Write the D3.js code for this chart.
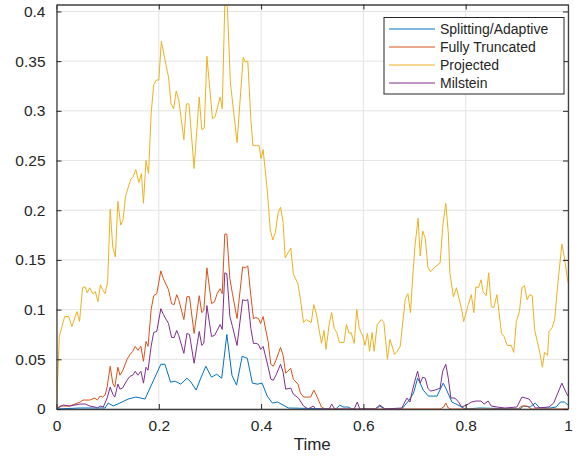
<!DOCTYPE html>
<html>
<meta charset="utf-8" />
<head>
<title>Time error</title>
<script src="https://cdn.jsdelivr.net/npm/d3@7"></script>
<style>
  body { margin: 0; background: #fff; }
  text { font-family: "Liberation Sans", Arial, sans-serif; fill: #262626; }
</style>
</head>
<body>
<div id="chart"></div>
<script>
// series names, same order as the legend
var names = ["Splitting/Adaptive", "Fully Truncated", "Projected", "Milstein"];
var colors = ["#0072BD", "#D95319", "#EDB120", "#7E2F8E"];

var xTicks = [0, 0.2, 0.4, 0.6, 0.8, 1];
var yTicks = [0, 0.05, 0.1, 0.15, 0.2, 0.25, 0.3, 0.35, 0.4];
var yMax = 0.407;

// Splitting/Adaptive
var tSplit = [0, 0.046, 0.085, 0.095, 0.101, 0.111, 0.124, 0.140, 0.155, 0.165, 0.173, 0.204, 0.212, 0.223, 0.232,
  0.243, 0.255, 0.263, 0.273, 0.282, 0.292, 0.303, 0.313, 0.323, 0.333, 0.343, 0.352, 0.363, 0.373, 0.383, 0.393,
  0.402, 0.412, 0.422, 0.432, 0.443, 0.453, 0.546, 0.554, 0.560, 0.570, 0.578, 0.625, 0.632, 0.642, 0.675, 0.688,
  0.698, 0.706, 0.711, 0.717, 0.727, 0.744, 0.756, 0.761, 0.767, 0.773, 0.789, 0.799, 0.828, 0.906, 0.913, 0.926,
  0.936, 0.945, 0.965, 0.977, 0.985, 0.993, 1.0];
var vSplit = [0, 0.001, 0.001, 0.001, 0.006, 0.003, 0.006, 0.010, 0.012, 0.011, 0.010, 0.045, 0.045, 0.027, 0.028,
  0.025, 0.031, 0.027, 0.019, 0.031, 0.043, 0.032, 0.035, 0.031, 0.075, 0.034, 0.024, 0.053, 0.051, 0.026, 0.025,
  0.026, 0.013, 0.006, 0.007, 0.004, 0.001, 0, 0.004, 0.002, 0.002, 0, 0, 0.003, 0, 0, 0.008,
  0.016, 0.031, 0.026, 0.019, 0.013, 0.013, 0.026, 0.021, 0.014, 0.007, 0.003, 0, 0.001, 0, 0.003, 0.002,
  0.006, 0.001, 0.001, 0.002, 0.007, 0.007, 0.004];

// Fully Truncated
var tTrunc = [0, 0.007, 0.017, 0.026, 0.036, 0.046, 0.052, 0.065, 0.075, 0.080, 0.085, 0.090, 0.095, 0.099, 0.105,
  0.110, 0.114, 0.120, 0.124, 0.129, 0.138, 0.144, 0.149, 0.154, 0.159, 0.165, 0.170, 0.175, 0.179, 0.185, 0.190,
  0.196, 0.204, 0.209, 0.219, 0.225, 0.230, 0.235, 0.239, 0.249, 0.255, 0.260, 0.269, 0.279, 0.284, 0.288, 0.294,
  0.303, 0.309, 0.314, 0.320, 0.324, 0.329, 0.333, 0.339, 0.344, 0.353, 0.364, 0.369, 0.374, 0.380, 0.385, 0.390,
  0.395, 0.399, 0.404, 0.414, 0.419, 0.424, 0.429, 0.438, 0.443, 0.448, 0.458, 0.463, 0.472, 0.477, 0.483, 0.497,
  0.503, 0.508, 0.518, 0.525, 0.750, 0.757, 0.761, 0.766, 0.772, 0.902, 0.910, 0.920, 0.928, 1.0];
var vTrunc = [0, 0.003, 0.003, 0.003, 0.005, 0.007, 0.009, 0.009, 0.011, 0.009, 0.013, 0.012, 0.014, 0.022, 0.043,
  0.026, 0.022, 0.042, 0.034, 0.038, 0.050, 0.055, 0.058, 0.063, 0.059, 0.063, 0.048, 0.068, 0.063, 0.100, 0.114,
  0.116, 0.139, 0.131, 0.120, 0.106, 0.105, 0.115, 0.110, 0.090, 0.113, 0.113, 0.076, 0.114, 0.097, 0.099, 0.142,
  0.106, 0.108, 0.116, 0.121, 0.116, 0.176, 0.176, 0.131, 0.116, 0.091, 0.143, 0.142, 0.144, 0.114, 0.091, 0.092,
  0.091, 0.086, 0.093, 0.067, 0.045, 0.043, 0.049, 0.062, 0.054, 0.036, 0.041, 0.030, 0.025, 0.016, 0.012, 0.012,
  0.019, 0.014, 0.002, 0, 0, 0.002, 0.006, 0.001, 0, 0, 0.003, 0.003, 0, 0];

// Projected
var tProj = [0, 0.0055, 0.016, 0.024, 0.030, 0.040, 0.045, 0.051, 0.056, 0.060, 0.065, 0.071, 0.076, 0.081, 0.086,
  0.090, 0.095, 0.100, 0.105, 0.110, 0.115, 0.120, 0.1255, 0.130, 0.135, 0.145, 0.150, 0.155, 0.161, 0.166, 0.170,
  0.175, 0.180, 0.185, 0.190, 0.195, 0.200, 0.205, 0.211, 0.219, 0.224, 0.229, 0.234, 0.239, 0.249, 0.254, 0.259,
  0.269, 0.279, 0.284, 0.289, 0.294, 0.305, 0.310, 0.315, 0.320, 0.324, 0.329, 0.334, 0.340, 0.353, 0.365, 0.369,
  0.374, 0.380, 0.384, 0.391, 0.396, 0.400, 0.404, 0.412, 0.418, 0.423, 0.428, 0.433, 0.438, 0.443, 0.447, 0.458,
  0.463, 0.472, 0.477, 0.483, 0.488, 0.498, 0.503, 0.508, 0.518, 0.523, 0.527, 0.533, 0.538, 0.543, 0.548, 0.553,
  0.562, 0.567, 0.572, 0.576, 0.582, 0.587, 0.592, 0.599, 0.603, 0.608, 0.612, 0.617, 0.621, 0.627, 0.635, 0.640,
  0.647, 0.652, 0.661, 0.666, 0.672, 0.682, 0.687, 0.692, 0.697, 0.701, 0.707, 0.711, 0.716, 0.721, 0.726, 0.731,
  0.740, 0.750, 0.755, 0.761, 0.766, 0.769, 0.776, 0.782, 0.787, 0.793, 0.796, 0.805, 0.811, 0.816, 0.820, 0.825,
  0.830, 0.834, 0.840, 0.845, 0.850, 0.855, 0.861, 0.870, 0.875, 0.881, 0.889, 0.894, 0.899, 0.905, 0.910, 0.915,
  0.920, 0.925, 0.930, 0.935, 0.944, 0.950, 0.954, 0.960, 0.963, 0.969, 0.974, 0.979, 0.988, 0.993, 1.0];
var vProj = [0, 0.073, 0.093, 0.093, 0.083, 0.098, 0.088, 0.122, 0.123, 0.117, 0.122, 0.116, 0.118, 0.108, 0.125,
  0.120, 0.116, 0.128, 0.201, 0.163, 0.153, 0.209, 0.185, 0.190, 0.214, 0.231, 0.234, 0.241, 0.228, 0.237, 0.207,
  0.250, 0.237, 0.297, 0.326, 0.331, 0.331, 0.370, 0.354, 0.334, 0.307, 0.302, 0.320, 0.311, 0.271, 0.307, 0.307,
  0.242, 0.314, 0.281, 0.283, 0.355, 0.292, 0.294, 0.304, 0.314, 0.302, 0.407, 0.405, 0.328, 0.268, 0.354, 0.349,
  0.350, 0.291, 0.265, 0.265, 0.265, 0.252, 0.261, 0.220, 0.180, 0.170, 0.178, 0.197, 0.203, 0.188, 0.152, 0.162,
  0.136, 0.126, 0.110, 0.087, 0.090, 0.087, 0.105, 0.096, 0.066, 0.079, 0.060, 0.085, 0.097, 0.081, 0.077, 0.067,
  0.067, 0.085, 0.076, 0.077, 0.066, 0.100, 0.081, 0.073, 0.064, 0.076, 0.058, 0.077, 0.058, 0.085, 0.090, 0.087,
  0.050, 0.070, 0.055, 0.058, 0.063, 0.111, 0.116, 0.097, 0.137, 0.165, 0.192, 0.154, 0.179, 0.172, 0.143, 0.138,
  0.143, 0.147, 0.183, 0.207, 0.177, 0.137, 0.113, 0.122, 0.111, 0.098, 0.088, 0.105, 0.115, 0.097, 0.123, 0.122,
  0.130, 0.118, 0.114, 0.137, 0.103, 0.102, 0.115, 0.076, 0.073, 0.064, 0.064, 0.057, 0.088, 0.098, 0.122, 0.124,
  0.110, 0.115, 0.114, 0.079, 0.059, 0.042, 0.057, 0.054, 0.078, 0.082, 0.090, 0.120, 0.166, 0.152, 0.127];

// Milstein
var tMil = [0, 0.013, 0.026, 0.046, 0.056, 0.065, 0.075, 0.080, 0.085, 0.0915, 0.099, 0.105, 0.110, 0.114, 0.120,
  0.124, 0.129, 0.138, 0.144, 0.149, 0.154, 0.159, 0.165, 0.170, 0.175, 0.179, 0.185, 0.190, 0.196, 0.204, 0.209,
  0.219, 0.225, 0.230, 0.235, 0.239, 0.249, 0.255, 0.260, 0.269, 0.279, 0.284, 0.288, 0.294, 0.303, 0.309, 0.314,
  0.320, 0.324, 0.329, 0.333, 0.339, 0.344, 0.353, 0.364, 0.369, 0.374, 0.380, 0.385, 0.390, 0.395, 0.399, 0.404,
  0.414, 0.419, 0.424, 0.429, 0.438, 0.443, 0.448, 0.458, 0.463, 0.473, 0.483, 0.492, 0.502, 0.507, 0.533, 0.538,
  0.544, 0.582, 0.588, 0.593, 0.623, 0.632, 0.642, 0.675, 0.685, 0.691, 0.696, 0.701, 0.706, 0.711, 0.716, 0.721,
  0.726, 0.731, 0.740, 0.750, 0.755, 0.761, 0.766, 0.771, 0.779, 0.786, 0.792, 0.802, 0.811, 0.820, 0.830, 0.836,
  0.844, 0.850, 0.861, 0.877, 0.900, 0.910, 0.917, 0.924, 0.931, 0.936, 0.963, 0.972, 0.980, 0.988, 0.995, 1.0];
var vMil = [0, 0.004, 0.003, 0.005, 0.005, 0.003, 0.002, 0.001, 0.003, 0.002, 0.011, 0.022, 0.015, 0.012, 0.025,
  0.020, 0.021, 0.029, 0.033, 0.034, 0.038, 0.034, 0.038, 0.026, 0.042, 0.039, 0.063, 0.077, 0.078, 0.101, 0.095,
  0.086, 0.072, 0.072, 0.079, 0.074, 0.056, 0.076, 0.075, 0.046, 0.078, 0.064, 0.066, 0.104, 0.073, 0.074, 0.079,
  0.085, 0.080, 0.137, 0.136, 0.093, 0.083, 0.064, 0.110, 0.109, 0.110, 0.081, 0.066, 0.066, 0.065, 0.060, 0.063,
  0.042, 0.030, 0.029, 0.034, 0.045, 0.037, 0.020, 0.021, 0.015, 0.011, 0.003, 0, 0.003, 0, 0, 0.005,
  0, 0, 0.007, 0, 0, 0.004, 0, 0.001, 0.011, 0.007, 0.019, 0.029, 0.038, 0.026, 0.032, 0.031,
  0.021, 0.018, 0.019, 0.021, 0.038, 0.045, 0.031, 0.011, 0.011, 0.007, 0.002, 0.004, 0.007, 0.008, 0.008, 0.005,
  0.008, 0.003, 0.002, 0.001, 0.002, 0.012, 0.011, 0.010, 0.005, 0.001, 0.002, 0.006, 0.016, 0.026, 0.018, 0.013];

var seriesT = [tSplit, tTrunc, tProj, tMil];
var seriesV = [vSplit, vTrunc, vProj, vMil];

var width = 580;
var height = 460;
var margin = { left: 56.5, right: 12, top: 4.5, bottom: 51 };
var x0 = margin.left, x1 = width - margin.right;
var y0 = height - margin.bottom, y1 = margin.top;

var svg = d3.select("#chart").append("svg").attr("width", width).attr("height", height);

var x = d3.scaleLinear().domain([0, 1]).range([x0, x1]);
var y = d3.scaleLinear().domain([0, yMax]).range([y0, y1]);

// grid
svg.append("g").selectAll("line").data(xTicks).enter().append("line")
  .attr("x1", function(d) { return x(d); }).attr("x2", function(d) { return x(d); })
  .attr("y1", y0).attr("y2", y1).attr("stroke", "#e3e3e3").attr("stroke-width", 1);
svg.append("g").selectAll("line").data(yTicks).enter().append("line")
  .attr("x1", x0).attr("x2", x1)
  .attr("y1", function(d) { return y(d); }).attr("y2", function(d) { return y(d); })
  .attr("stroke", "#e3e3e3").attr("stroke-width", 1);

svg.append("clipPath").attr("id", "clip").append("rect")
  .attr("x", x0).attr("y", y1).attr("width", x1 - x0).attr("height", y0 - y1);

var line = d3.line().x(function(d) { return x(d[0]); }).y(function(d) { return y(d[1]); });

var plot = svg.append("g").attr("clip-path", "url(#clip)");
for (let i = 0; i < names.length; i++) {
  let pts = seriesT[i].map(function(t, k) { return [t, seriesV[i][k]]; });
  plot.append("path").datum(pts).attr("d", line)
    .attr("fill", "none").attr("stroke", colors[i]).attr("stroke-width", 1);
}

// axes, ticks inward on all four sides
var fmt = function(d) { return d3.format("~g")(d); };
var tickLen = 5;
svg.append("g").attr("transform", "translate(0," + y0 + ")")
  .call(d3.axisBottom(x).tickValues(xTicks).tickFormat(fmt).tickSizeInner(-tickLen).tickSizeOuter(0).tickPadding(11));
svg.append("g").attr("transform", "translate(0," + y1 + ")")
  .call(d3.axisTop(x).tickValues(xTicks).tickFormat("").tickSizeInner(-tickLen).tickSizeOuter(0));
svg.append("g").attr("transform", "translate(" + x0 + ",0)")
  .call(d3.axisLeft(y).tickValues(yTicks).tickFormat(fmt).tickSizeInner(-tickLen).tickSizeOuter(0).tickPadding(11));
svg.append("g").attr("transform", "translate(" + x1 + ",0)")
  .call(d3.axisRight(y).tickValues(yTicks).tickFormat("").tickSizeInner(-tickLen).tickSizeOuter(0));

svg.selectAll(".domain").attr("stroke", "#404040").attr("stroke-width", 1.3);
svg.selectAll(".tick line").attr("stroke", "#262626");
svg.selectAll(".tick text").attr("font-size", "15.5px").attr("fill", "#262626")
  .attr("font-family", "'Liberation Sans', Arial, sans-serif");

svg.append("text").attr("x", (x0 + x1) / 2).attr("y", 450).attr("text-anchor", "middle")
  .attr("font-size", "17px").text("Time");

// legend
var lg = svg.append("g").attr("transform", "translate(384,17.5)");
lg.append("rect").attr("width", 180).attr("height", 76.5)
  .attr("fill", "#fff").attr("stroke", "#262626").attr("stroke-width", 1);
for (let i = 0; i < names.length; i++) {
  let ly = 11.5 + i * 18;
  lg.append("line").attr("x1", 5).attr("x2", 51).attr("y1", ly).attr("y2", ly)
    .attr("stroke", colors[i]).attr("stroke-width", 1);
  lg.append("text").attr("x", 56).attr("y", ly).attr("dy", "0.35em")
    .attr("font-size", "14px").text(names[i]);
}
</script>
</body>
</html>
